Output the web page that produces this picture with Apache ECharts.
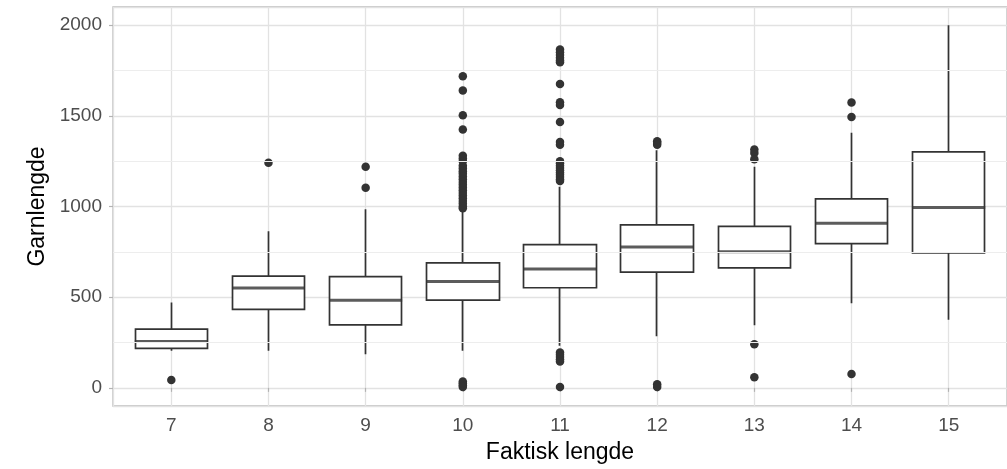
<!DOCTYPE html>
<html>
<head>
<meta charset="utf-8">
<style>
  html, body { margin: 0; padding: 0; background: #fff; }
  #chart { width: 1007px; height: 469px; }
</style>
<script src="https://cdn.jsdelivr.net/npm/echarts@6/dist/echarts.min.js"></script>
</head>
<body>
<div id="chart"></div>
<script>
// Faktisk lengde (x categories)
const categories = [7, 8, 9, 10, 11, 12, 13, 14, 15];

// box stats per category: [min, Q1, median, Q3, max]
const boxStats = [
  [205, 218, 256, 324, 470],
  [205, 433, 550, 616, 863],
  [186, 347, 483, 613, 985],
  [205, 484, 587, 689, 982],
  [232, 552, 656, 790, 1109],
  [284, 638, 777, 899, 1310],
  [345, 662, 751, 890, 1219],
  [466, 795, 907, 1042, 1406],
  [375, 744, 994, 1301, 2000]
];

// outliers: [category, Garnlengde]
const outliers = [
  [7, 44],
  [8, 1241],
  [9, 1219], [9, 1103],
  [10, 1718], [10, 1640], [10, 1503], [10, 1424],
  [10, 1280], [10, 1265], [10, 1250], [10, 1225], [10, 1210], [10, 1195], [10, 1180],
  [10, 1165], [10, 1150], [10, 1135], [10, 1120], [10, 1105], [10, 1090], [10, 1075],
  [10, 1060], [10, 1045], [10, 1030], [10, 1015], [10, 1000], [10, 990],
  [10, 35], [10, 25], [10, 15], [10, 5],
  [11, 1865], [11, 1850], [11, 1835], [11, 1820], [11, 1805], [11, 1795],
  [11, 1676], [11, 1575], [11, 1560], [11, 1466], [11, 1355], [11, 1340],
  [11, 1250], [11, 1238], [11, 1225], [11, 1212], [11, 1200], [11, 1188],
  [11, 1175], [11, 1162], [11, 1150], [11, 1140],
  [11, 195], [11, 182], [11, 170], [11, 158], [11, 145], [11, 5],
  [12, 1360], [12, 1350], [12, 1340], [12, 20], [12, 5],
  [13, 1314], [13, 1295], [13, 1260], [13, 241], [13, 59],
  [14, 1574], [14, 1493], [14, 77]
];

// y axis
const yMajorBreaks = [0, 500, 1000, 1500, 2000];
const yMinorBreaks = [250, 750, 1250, 1750];

const chart = echarts.init(document.getElementById('chart'));

const tickText = { color: '#4d4d4d', fontSize: 19, fontFamily: 'Liberation Sans, Arial, sans-serif' };
const titleText = { color: '#000', fontSize: 23, fontFamily: 'Liberation Sans, Arial, sans-serif' };

chart.setOption({
  animation: false,
  grid: {
    left: 113, top: 7, width: 896, height: 400,
    show: true, borderColor: '#b8b8b8', borderWidth: 1.3, backgroundColor: 'transparent'
  },
  xAxis: {
    type: 'value',
    min: 6.4, max: 15.6,
    splitNumber: 9,
    name: 'Faktisk lengde',
    nameLocation: 'middle',
    nameGap: 35,
    nameTextStyle: titleText,
    axisLine: { show: false },
    axisTick: { show: true, length: 4, lineStyle: { color: '#b3b3b3', width: 1.2 } },
    axisLabel: Object.assign({
      margin: 10,
      showMinLabel: false, showMaxLabel: false,
      formatter: v => categories.includes(v) ? String(v) : ''
    }, tickText),
    splitLine: { show: true, lineStyle: { color: '#e2e2e2', width: 1.3 } }
  },
  yAxis: {
    type: 'value',
    min: -100, max: 2100,
    splitNumber: 4,
    name: 'Garnlengde',
    nameLocation: 'middle',
    nameGap: 64,
    nameTextStyle: titleText,
    axisLine: { show: false },
    axisTick: { show: true, length: 4, lineStyle: { color: '#b3b3b3', width: 1.2 } },
    axisLabel: Object.assign({
      margin: 11,
      showMinLabel: false, showMaxLabel: false,
      formatter: v => yMajorBreaks.includes(v) ? String(v) : ''
    }, tickText),
    splitLine: { show: true, lineStyle: { color: '#e2e2e2', width: 1.3 } }
  },
  series: [
    {
      // minor grid lines
      type: 'line',
      data: [],
      z: 0,
      silent: true,
      markLine: {
        silent: true,
        symbol: 'none',
        label: { show: false },
        lineStyle: { color: '#ededed', width: 1, type: 'solid' },
        data: yMinorBreaks.map(v => ({ yAxis: v }))
      }
    },
    {
      // box + whiskers
      type: 'candlestick',
      barWidth: 73,
      silent: true,
      itemStyle: {
        color: '#fff', color0: '#fff',
        borderColor: '#333', borderColor0: '#333', borderWidth: 1.7
      },
      data: boxStats.map((s, i) => [categories[i], s[1], s[3], s[0], s[4]])
    },
    {
      // median
      type: 'scatter',
      symbol: 'rect',
      symbolSize: [73, 3],
      silent: true,
      z: 3,
      itemStyle: { color: '#333' },
      data: boxStats.map((s, i) => [categories[i], s[2]])
    },
    {
      // outliers
      type: 'scatter',
      symbolSize: 8.5,
      silent: true,
      z: 4,
      itemStyle: { color: '#333', opacity: 1 },
      data: outliers
    }
  ]
});
</script>
</body>
</html>
